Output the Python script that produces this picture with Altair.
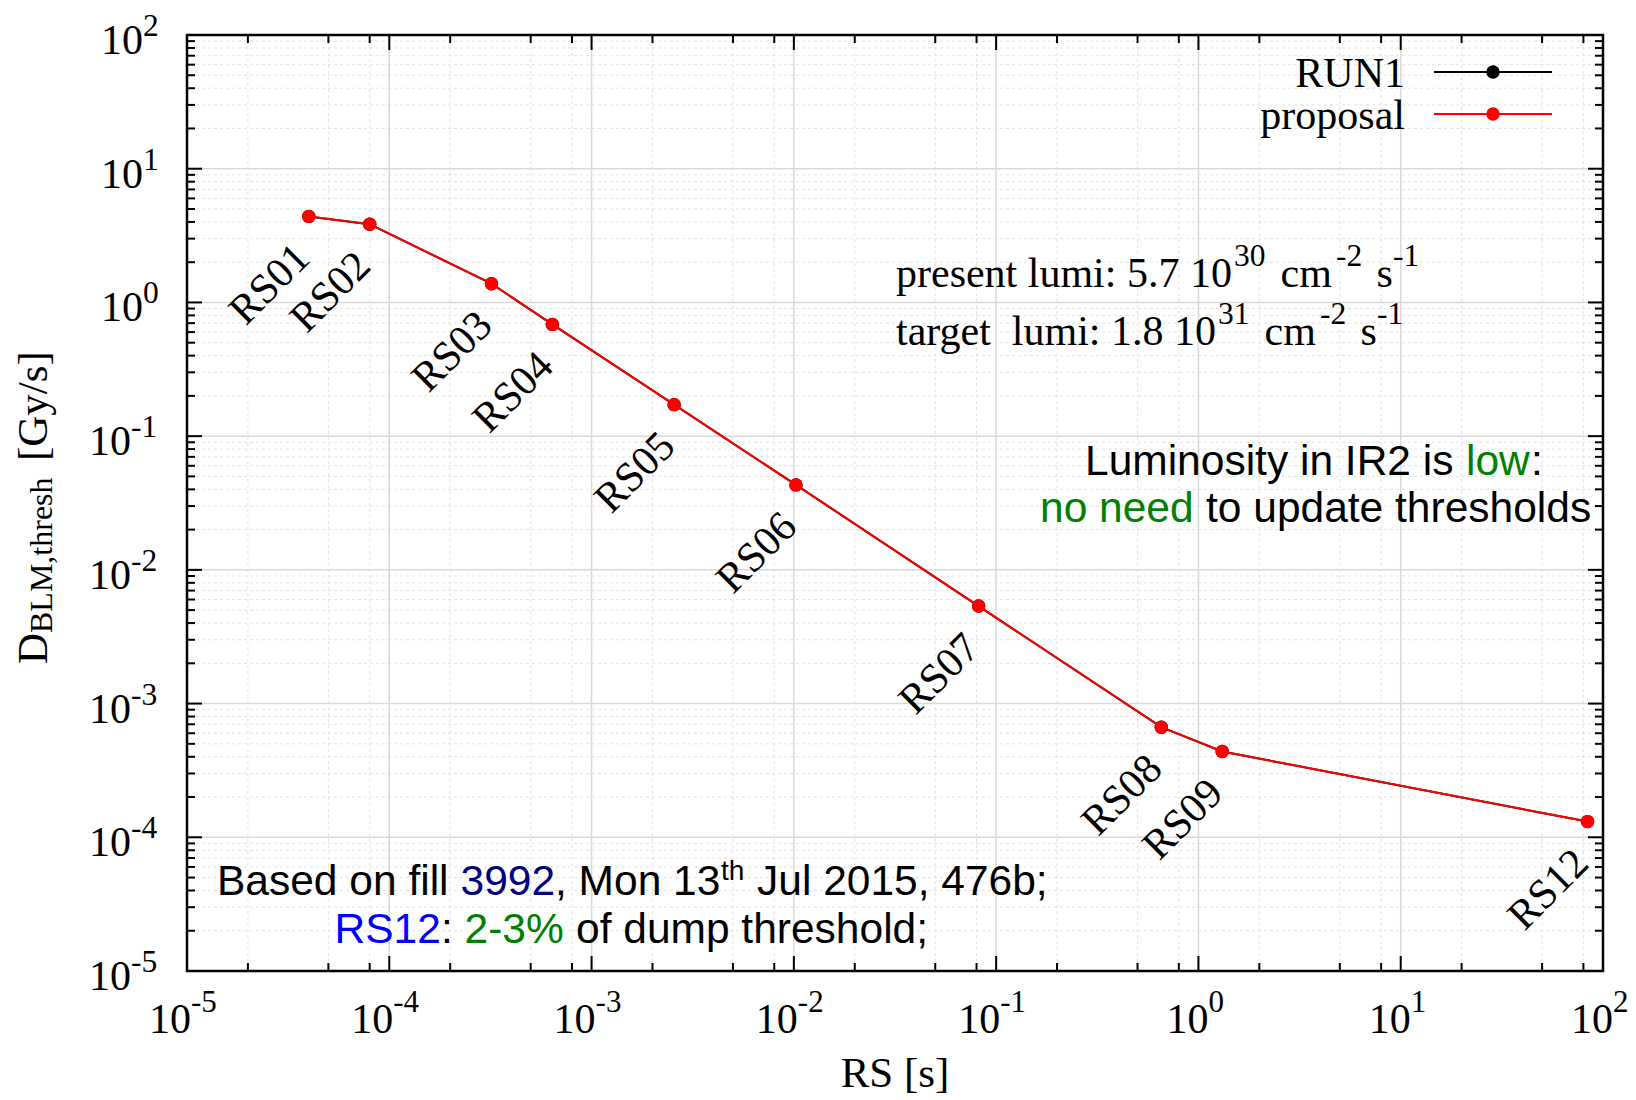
import altair as alt
import pandas as pd

# ---------------- data ----------------
RS_NAMES = ["RS01", "RS02", "RS03", "RS04", "RS05", "RS06", "RS07", "RS08", "RS09", "RS12"]
RS_SECONDS = [4e-5, 8e-5, 3.2e-4, 6.4e-4, 2.56e-3, 1.024e-2, 8.192e-2, 0.65536, 1.31072, 83.88608]
PROPOSAL_GYS = [4.40, 3.85, 1.38, 0.685, 0.172, 0.0432, 5.36e-3, 6.66e-4, 4.38e-4, 1.31e-4]
RUN1_GYS = [4.40, 3.85, 1.38, 0.685, 0.172, 0.0432, 5.36e-3, 6.66e-4, 4.38e-4, 1.31e-4]

X_EXPONENTS = [-5, -4, -3, -2, -1, 0, 1, 2]
Y_EXPONENTS = [-5, -4, -3, -2, -1, 0, 1, 2]
X_MINOR_MULT = [2, 5, 8]
Y_MINOR_MULT = [2, 3, 4, 5, 6, 7, 8, 9]

LEGEND_NAMES = ["RUN1", "proposal"]
LEGEND_COLORS = ["black", "#ff0000"]

# ---------------- style ----------------
SERIF = "Liberation Serif"
SANS = "Liberation Sans"
GREEN = "#008000"
NAVY = "#000080"
BLUE = "#0000ff"
RED = "#ff0000"
SANS_SIZE = 42.5

W, H = 1416, 936          # plot area
OX, OY = 187, 35          # plot origin on the page

XS = alt.Scale(type="log", domain=[1e-5, 1e2], nice=False)
YS = alt.Scale(type="log", domain=[1e-5, 1e2], nice=False)

ONE = alt.Data(values=[{"a": 1}])


def fx(x):
    return x - OX


def fy(y):
    return y - OY


def txt(s, x, y, size, color="black", font=SERIF, align="left", angle=0):
    return alt.Chart(ONE).mark_text(
        text=s, font=font, fontSize=size, color=color, align=align,
        baseline="alphabetic", angle=angle
    ).encode(x=alt.value(fx(x)), y=alt.value(fy(y)))


x_major = [10.0 ** e for e in X_EXPONENTS]
y_major = [10.0 ** e for e in Y_EXPONENTS]
x_minor = [m * 10.0 ** e for e in X_EXPONENTS[:-1] for m in X_MINOR_MULT]
y_minor = [m * 10.0 ** e for e in Y_EXPONENTS[:-1] for m in Y_MINOR_MULT]

layers = []

# grid
layers.append(alt.Chart(pd.DataFrame({"v": x_minor})).mark_rule(
    color="#e3e3e3", strokeWidth=1, strokeDash=[3, 3]).encode(x=alt.X("v:Q", scale=XS, axis=None)))
layers.append(alt.Chart(pd.DataFrame({"v": y_minor})).mark_rule(
    color="#e3e3e3", strokeWidth=1, strokeDash=[3, 3]).encode(y=alt.Y("v:Q", scale=YS, axis=None)))
layers.append(alt.Chart(pd.DataFrame({"v": x_major[1:-1]})).mark_rule(
    color="#d9d9d9", strokeWidth=1.5).encode(x=alt.X("v:Q", scale=XS, axis=None)))
layers.append(alt.Chart(pd.DataFrame({"v": y_major[1:-1]})).mark_rule(
    color="#d9d9d9", strokeWidth=1.5).encode(y=alt.Y("v:Q", scale=YS, axis=None)))

# inward ticks on all four sides
for vals, ln in ((x_major, 15), (x_minor, 8)):
    d = pd.DataFrame({"v": vals})
    xe = alt.X("v:Q", scale=XS, axis=None)
    layers.append(alt.Chart(d).mark_rule(color="black", strokeWidth=2).encode(
        x=xe, y=alt.value(H), y2=alt.value(H - ln)))
    layers.append(alt.Chart(d).mark_rule(color="black", strokeWidth=2).encode(
        x=xe, y=alt.value(0), y2=alt.value(ln)))
for vals, ln in ((y_major, 15), (y_minor, 8)):
    d = pd.DataFrame({"v": vals})
    ye = alt.Y("v:Q", scale=YS, axis=None)
    layers.append(alt.Chart(d).mark_rule(color="black", strokeWidth=2).encode(
        y=ye, x=alt.value(0), x2=alt.value(ln)))
    layers.append(alt.Chart(d).mark_rule(color="black", strokeWidth=2).encode(
        y=ye, x=alt.value(W), x2=alt.value(W - ln)))

# series
run1 = pd.DataFrame({"name": RS_NAMES, "t": RS_SECONDS, "d": RUN1_GYS})
prop = pd.DataFrame({"name": RS_NAMES, "t": RS_SECONDS, "d": PROPOSAL_GYS})
for df, col in ((run1, "black"), (prop, RED)):
    enc = dict(x=alt.X("t:Q", scale=XS, axis=None), y=alt.Y("d:Q", scale=YS, axis=None))
    layers.append(alt.Chart(df).mark_line(color=col, strokeWidth=2).encode(**enc))
    layers.append(alt.Chart(df).mark_circle(color=col, size=180, opacity=1).encode(**enc))

# RS labels
layers.append(alt.Chart(prop).mark_text(
    angle=315, align="right", baseline="alphabetic", xOffset=3, yOffset=44,
    font=SERIF, fontSize=42, color="black"
).encode(x=alt.X("t:Q", scale=XS, axis=None), y=alt.Y("d:Q", scale=YS, axis=None), text="name:N"))

# tick labels: x
xt = pd.DataFrame({"v": x_major, "n": X_EXPONENTS, "e": [str(e) for e in X_EXPONENTS]})
for cond, off in (("datum.n < 0", 4), ("datum.n >= 0", 10)):
    base = alt.Chart(xt).transform_filter(cond)
    layers.append(base.mark_text(text="10", align="right", baseline="alphabetic", xOffset=off,
                                 font=SERIF, fontSize=42, color="black").encode(
        x=alt.X("v:Q", scale=XS, axis=None), y=alt.value(H + 62)))
    layers.append(base.mark_text(align="left", baseline="alphabetic", xOffset=off,
                                 font=SERIF, fontSize=31, color="black").encode(
        x=alt.X("v:Q", scale=XS, axis=None), y=alt.value(H + 41), text="e:N"))

# tick labels: y
yt = pd.DataFrame({"v": y_major, "n": Y_EXPONENTS, "e": [str(e) for e in Y_EXPONENTS]})
for cond, xpos in (("datum.n < 0", -56), ("datum.n >= 0", -44)):
    base = alt.Chart(yt).transform_filter(cond)
    layers.append(base.mark_text(text="10", align="right", baseline="alphabetic", yOffset=19,
                                 font=SERIF, fontSize=42, color="black").encode(
        y=alt.Y("v:Q", scale=YS, axis=None), x=alt.value(xpos)))
    layers.append(base.mark_text(align="left", baseline="alphabetic", yOffset=1,
                                 font=SERIF, fontSize=31.5, color="black").encode(
        y=alt.Y("v:Q", scale=YS, axis=None), x=alt.value(xpos), text="e:N"))

# axis titles
layers.append(alt.Chart(ONE).mark_text(text="RS [s]", font=SERIF, fontSize=43, align="center",
                                       baseline="alphabetic").encode(
    x=alt.value(W / 2), y=alt.value(fy(1087))))
layers.append(txt("D", 47, 664, 43, angle=270))
layers.append(txt("BLM,thresh", 52, 633, 32, angle=270))
layers.append(txt("[Gy/s]", 47, 461, 43, angle=270))

# legend
for i, (nm, col) in enumerate(zip(LEGEND_NAMES, LEGEND_COLORS)):
    ly = 72 + 42 * i
    layers.append(alt.Chart(ONE).mark_rule(color=col, strokeWidth=2).encode(
        x=alt.value(fx(1434)), x2=alt.value(fx(1552)), y=alt.value(fy(ly))))
    layers.append(alt.Chart(ONE).mark_circle(color=col, size=180, opacity=1).encode(
        x=alt.value(fx(1493)), y=alt.value(fy(ly))))
    layers.append(txt(nm, 1405, ly + 15, 42, align="right"))

# luminosity annotation (serif, with superscripts)
for (main, s1, s2, s3, base, xs) in (
    ("present lumi: 5.7 10", "30", "-2", "-1", 287, (1234, 1280.5, 1336, 1376.5, 1393)),
    ("target\u00a0 lumi: 1.8 10", "31", "-2", "-1", 345, (1218, 1264.5, 1320, 1360.5, 1377)),
):
    layers.append(txt(main, 896, base, 42))
    layers.append(txt(s1, xs[0], base - 21, 31.5))
    layers.append(txt("cm", xs[1], base, 42))
    layers.append(txt(s2, xs[2], base - 21, 31.5))
    layers.append(txt("s", xs[3], base, 42))
    layers.append(txt(s3, xs[4], base - 21, 31.5))

# IR2 note (sans)
layers.append(txt("Luminosity in IR2 is", 1085, 475, SANS_SIZE, font=SANS))
layers.append(txt("low", 1466, 475, SANS_SIZE, color=GREEN, font=SANS))
layers.append(txt(":", 1531, 475, SANS_SIZE, font=SANS))
layers.append(txt("no need", 1040, 521.7, SANS_SIZE, color=GREEN, font=SANS))
layers.append(txt("to update thresholds", 1206, 521.7, SANS_SIZE, font=SANS))

# fill note (sans)
layers.append(txt("Based on fill", 217, 895, SANS_SIZE, font=SANS))
layers.append(txt("3992", 460.5, 895, SANS_SIZE, color=NAVY, font=SANS))
layers.append(txt(", Mon 13", 555, 895, SANS_SIZE, font=SANS))
layers.append(txt("th", 721, 880, 28, font=SANS))
layers.append(txt("Jul 2015, 476b;", 757, 895, SANS_SIZE, font=SANS))
layers.append(txt("RS12", 334.5, 943.3, SANS_SIZE, color=BLUE, font=SANS))
layers.append(txt(":", 441, 943.3, SANS_SIZE, font=SANS))
layers.append(txt("2-3%", 464.5, 943.3, SANS_SIZE, color=GREEN, font=SANS))
layers.append(txt("of dump threshold;", 576, 943.3, SANS_SIZE, font=SANS))

chart = alt.layer(*layers).properties(
    width=W, height=H,
    autosize=alt.AutoSizeParams(type="none"),
    padding={"left": 179, "top": 27, "right": 25, "bottom": 129},
).configure_view(stroke="black", strokeWidth=2.5)

chart.save("out.html", embed_options={"renderer": "svg", "actions": False})
